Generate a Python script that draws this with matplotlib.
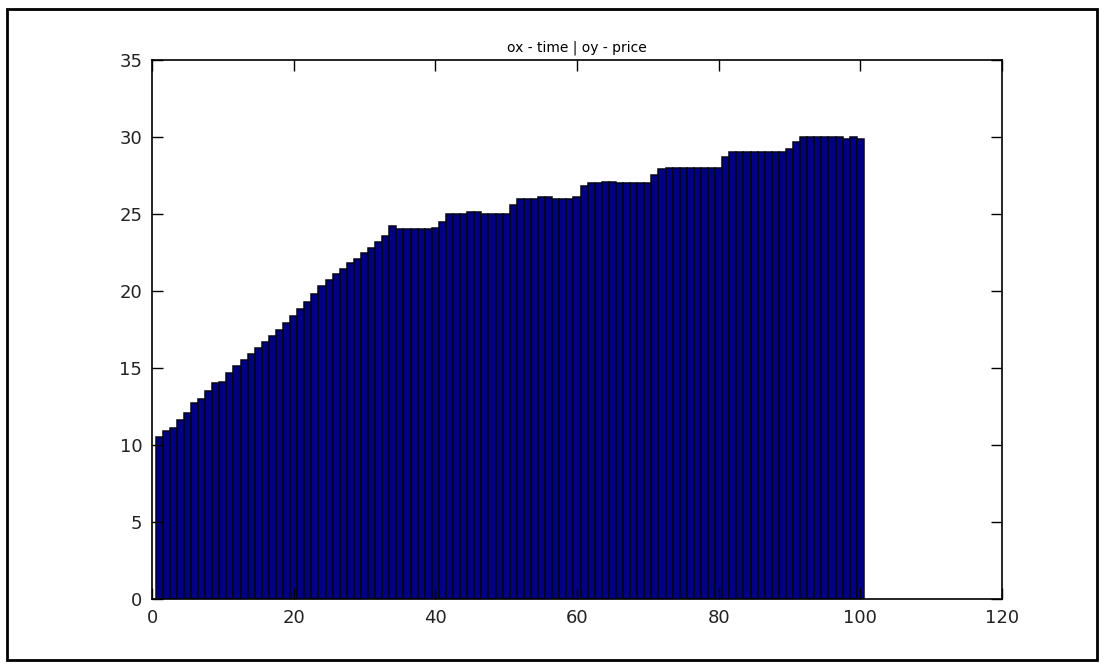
import numpy as np
import matplotlib
matplotlib.use("Agg")
from matplotlib import pyplot as plt
from matplotlib.patches import Rectangle

# price per time step
time = np.arange(1, 101)
price = [
    10.5, 10.9, 11.1, 11.6, 12.1, 12.7, 13.0, 13.5, 14.0, 14.1,
    14.7, 15.1, 15.5, 15.9, 16.3, 16.7, 17.1, 17.5, 17.9, 18.4,
    18.8, 19.3, 19.8, 20.3, 20.7, 21.1, 21.4, 21.8, 22.1, 22.5,
    22.8, 23.2, 23.6, 24.2, 24.0, 24.0, 24.0, 24.0, 24.0, 24.1,
    24.5, 25.0, 25.0, 25.0, 25.1, 25.1, 25.0, 25.0, 25.0, 25.0,
    25.6, 26.0, 26.0, 26.0, 26.1, 26.1, 26.0, 26.0, 26.0, 26.1,
    26.8, 27.0, 27.0, 27.1, 27.1, 27.0, 27.0, 27.0, 27.0, 27.0,
    27.5, 27.9, 28.0, 28.0, 28.0, 28.0, 28.0, 28.0, 28.0, 28.0,
    28.7, 29.0, 29.0, 29.0, 29.0, 29.0, 29.0, 29.0, 29.0, 29.2,
    29.7, 30.0, 30.0, 30.0, 30.0, 30.0, 30.0, 29.9, 30.0, 29.9,
]
xticks = [0, 20, 40, 60, 80, 100, 120]
yticks = [0, 5, 10, 15, 20, 25, 30, 35]

fig = plt.figure(figsize=(11.04, 6.65), dpi=100)
ax = fig.add_axes([0.1377, 0.0992, 0.7699, 0.8106])

ax.bar(time, price, width=1.0, color='#000080', edgecolor='#05051a', linewidth=1.1)

ax.set_xlim(0, 120)
ax.set_ylim(0, 35)
ax.set_xticks(xticks)
ax.set_yticks(yticks)
ax.tick_params(direction='in', length=8, width=1, top=True, right=True,
               labelsize=13, labelcolor='#222222', pad=7)
for s in ax.spines.values():
    s.set_linewidth(1.2)
ax.set_title('ox - time | oy - price', fontsize=10, pad=6)

# screenshot frame
fig.patches.append(Rectangle((7 / 1104, 1 - 660 / 665), 1090 / 1104, 651 / 665,
                             transform=fig.transFigure, fill=False,
                             edgecolor='black', linewidth=2))

fig.savefig('out.png', dpi=100)
